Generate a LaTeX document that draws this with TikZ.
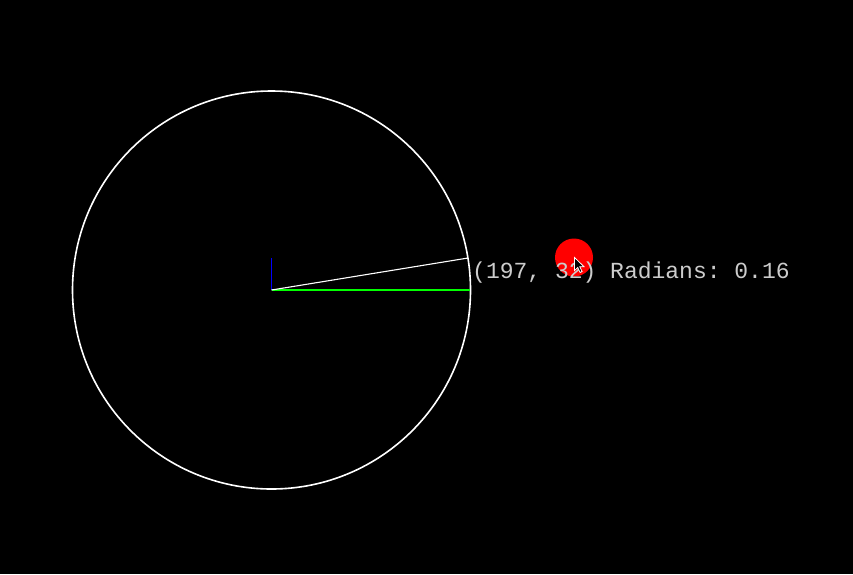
\documentclass[tikz,border=0pt]{standalone}
\usepackage{fontspec}
\setmonofont{Liberation Mono}
\begin{document}
\begin{tikzpicture}[x=1pt,y=-1pt,
  ringline/.style={draw=white,line width=1.6pt},
  rayline/.style={line width=1.1pt},
  labeltext/.style={text=black!20!white,font=\ttfamily\fontsize{23}{23}\selectfont,anchor=base west,inner sep=0pt}]
\fill[black] (0,0) rectangle (853,574);
\useasboundingbox (0,0) rectangle (853,574);
\coordinate (c) at (271.5,290);
\coordinate (h) at (469.5,290);
\coordinate (p) at (468,258);
\coordinate (v) at (271.5,258);
\draw[ringline] (c) circle[radius=199];
\draw[rayline,draw=blue] (c) -- (v);
\draw[rayline,draw=green] (c) -- (h);
\draw[rayline,draw=white] (c) -- (p);
\fill[red] (574,257.5) circle[radius=19];
\node[labeltext] (lbl) at (472,278) {(197, 32) Radians: 0.16};
\draw[white,fill=black,line width=0.8pt,line join=miter]
  (574.5,257.5) -- ++(0,13) -- ++(3.2,-3) -- ++(2.4,5) -- ++(2,-1) -- ++(-2.4,-4.8) -- ++(4.3,0) -- cycle;
\end{tikzpicture}
\end{document}
